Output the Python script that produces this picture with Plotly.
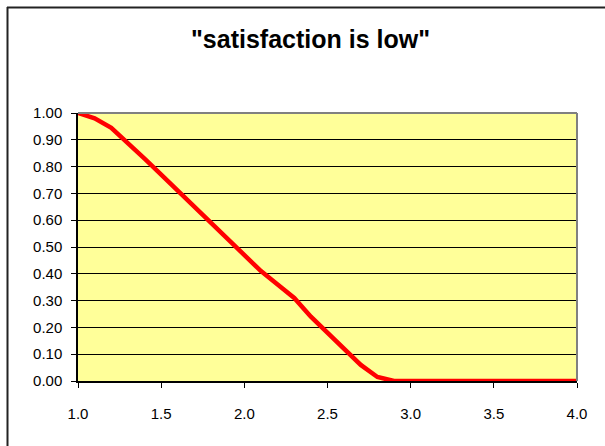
import plotly.graph_objects as go

# Share of respondents for whom "satisfaction is low", by score
score = [1.0, 1.1, 1.2, 1.3, 1.4, 1.5, 1.6, 1.7, 1.8, 1.9, 2.0,
         2.1, 2.2, 2.3, 2.4, 2.5, 2.6, 2.7, 2.8, 2.9, 3.0,
         3.1, 3.2, 3.3, 3.4, 3.5, 3.6, 3.7, 3.8, 3.9, 4.0]
membership = [1.00, 0.98, 0.945, 0.89, 0.83, 0.77, 0.71, 0.65, 0.59, 0.53, 0.47,
              0.41, 0.36, 0.31, 0.24, 0.18, 0.12, 0.06, 0.015, 0.0, 0.0,
              0.0, 0.0, 0.0, 0.0, 0.0, 0.0, 0.0, 0.0, 0.0, 0.0]

x_ticks = [1.0, 1.5, 2.0, 2.5, 3.0, 3.5, 4.0]
x_tick_labels = ["1.0", "1.5", "2.0", "2.5", "3.0", "3.5", "4.0"]
y_ticks = [0.0, 0.1, 0.2, 0.3, 0.4, 0.5, 0.6, 0.7, 0.8, 0.9, 1.0]
y_tick_labels = ["0.00", "0.10", "0.20", "0.30", "0.40", "0.50",
                 "0.60", "0.70", "0.80", "0.90", "1.00"]
title_text = '"satisfaction is low"'

W, H = 605, 446
L, R, T, B = 78, 577, 113, 381  # plot area in pixels

fig = go.Figure(
    go.Scatter(
        x=score, y=membership, mode="lines",
        line=dict(color="#FF0000", width=4.5),
        hoverinfo="x+y",
    )
)

font = "Liberation Sans, Arial, sans-serif"

fig.update_layout(
    width=W, height=H,
    margin=dict(l=L, r=W - R, t=T, b=H - B, pad=0),
    paper_bgcolor="white",
    plot_bgcolor="#FFFF99",
    showlegend=False,
    font=dict(family=font, size=15, color="black"),
)

fig.update_xaxes(
    range=[1.0, 4.0],
    tickvals=x_ticks, ticktext=x_tick_labels,
    showgrid=False, zeroline=False,
    showline=True, linecolor="black", linewidth=1.5,
    ticks="outside", ticklen=5, tickcolor="black", tickwidth=1,
    ticklabelstandoff=13,
    tickfont=dict(family=font, size=15),
)
fig.update_yaxes(
    range=[0.0, 1.0],
    tickvals=y_ticks, ticktext=y_tick_labels,
    showgrid=True, gridcolor="black", gridwidth=1,
    zeroline=False,
    showline=True, linecolor="black", linewidth=1.5,
    ticks="outside", ticklen=5, tickcolor="black", tickwidth=1,
    ticklabelstandoff=6,
    tickfont=dict(family=font, size=15),
)

# gray plot-area border on top and right
fig.add_shape(type="line", xref="paper", yref="paper", x0=0, x1=1, y0=1, y1=1,
              line=dict(color="#808080", width=2))
fig.add_shape(type="line", xref="paper", yref="paper", x0=1, x1=1, y0=0, y1=1,
              line=dict(color="#808080", width=2))

# chart-area frame (top and left edges)
def px_x(p):
    return (p - L) / (R - L)

def px_y(p):
    return (B - p) / (B - T)

fig.add_shape(type="line", xref="paper", yref="paper",
              x0=px_x(7), x1=px_x(W + 20), y0=px_y(7.5), y1=px_y(7.5),
              line=dict(color="#222222", width=2))
fig.add_shape(type="line", xref="paper", yref="paper",
              x0=px_x(7.5), x1=px_x(7.5), y0=px_y(7), y1=px_y(H + 20),
              line=dict(color="#222222", width=2))

fig.add_annotation(
    text="<b>" + title_text + "</b>",
    xref="paper", yref="paper",
    x=px_x(310), y=px_y(39),
    xanchor="center", yanchor="middle",
    showarrow=False,
    font=dict(family=font, size=25, color="black"),
)

fig.write_html("out.html")
